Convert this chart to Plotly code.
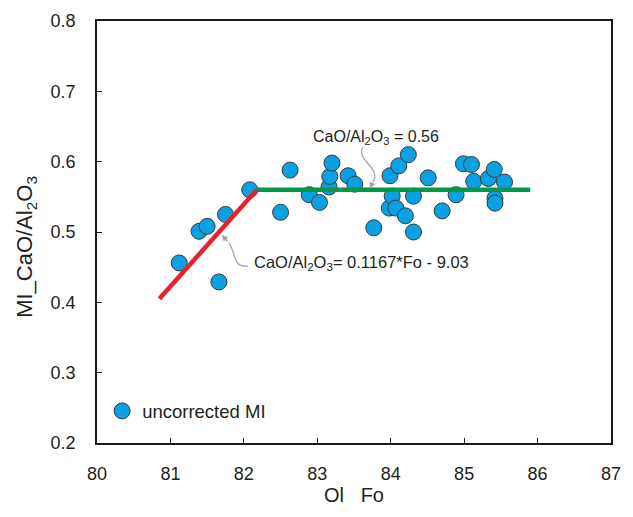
import plotly.graph_objects as go

# Olivine forsterite content of the host crystal and CaO/Al2O3 of each melt inclusion
ol_fo = [
    81.12, 81.39, 81.50, 81.66, 81.75, 82.08, 82.50, 82.63, 82.89, 83.03,
    83.16, 83.17, 83.20, 83.42, 83.51, 83.77, 83.98, 83.99, 84.02, 84.07,
    84.11, 84.20, 84.24, 84.31, 84.31, 84.51, 84.70, 84.89, 84.99, 85.10,
    85.13, 85.33, 85.41, 85.42, 85.42, 85.55,
]
mi_cao_al2o3 = [
    0.456, 0.501, 0.508, 0.429, 0.525, 0.560, 0.528, 0.588, 0.553, 0.542,
    0.564, 0.579, 0.598, 0.580, 0.568, 0.506, 0.534, 0.580, 0.551, 0.534,
    0.594, 0.523, 0.610, 0.551, 0.500, 0.577, 0.530, 0.553, 0.597, 0.596,
    0.572, 0.576, 0.589, 0.548, 0.541, 0.571,
]

# Two-segment trend: linear rise, then a constant plateau
slope, intercept = 0.1167, -9.03
plateau = 0.56
fo_start, fo_end = 80.85, 85.90
fo_break = (plateau - intercept) / slope

rise_x = [fo_start, fo_break]
rise_y = [slope * f + intercept for f in rise_x]
flat_x = [fo_break, fo_end]
flat_y = [plateau, plateau]

x_ticks = [80, 81, 82, 83, 84, 85, 86, 87]
y_ticks = [0.2, 0.3, 0.4, 0.5, 0.6, 0.7, 0.8]

TEXT = "#231f20"
FONT = "Liberation Sans, Arial, sans-serif"
ARROW = "#a3a3a3"

fig = go.Figure()

fig.add_trace(go.Scatter(
    x=ol_fo, y=mi_cao_al2o3, mode="markers", name="uncorrected MI",
    marker=dict(size=16, color="#0aa0e4", line=dict(color="#3a3a3a", width=1)),
))
fig.add_trace(go.Scatter(
    x=rise_x, y=rise_y, mode="lines", showlegend=False,
    line=dict(color="#e8212b", width=4.5),
))
fig.add_trace(go.Scatter(
    x=flat_x, y=flat_y, mode="lines", showlegend=False,
    line=dict(color="#00994a", width=4.5),
))

# Curved leader lines from the equation labels to the trend segments
fig.add_shape(type="path", xref="x", yref="y",
              path="M 83.623,0.6208 C 83.514,0.6024 83.881,0.5910 83.759,0.5711",
              line=dict(color=ARROW, width=1.2))
fig.add_shape(type="path", xref="x", yref="y",
              path="M 82.056,0.4517 C 81.838,0.4488 81.893,0.4716 81.798,0.4843",
              line=dict(color=ARROW, width=1.2))

fig.add_annotation(x=83.718, y=0.562, ax=3, ay=-7, text="", showarrow=True,
                   arrowhead=2, arrowsize=1, arrowwidth=1.2, arrowcolor=ARROW)
fig.add_annotation(x=81.702, y=0.4957, ax=7, ay=8, text="", showarrow=True,
                   arrowhead=2, arrowsize=1, arrowwidth=1.2, arrowcolor=ARROW)

fig.add_annotation(x=82.914, y=0.634, xanchor="left", yanchor="middle",
                   text=f"CaO/Al<sub>2</sub>O<sub>3</sub> = {plateau:.2f}",
                   showarrow=False, font=dict(size=16, color=TEXT, family=FONT))
fig.add_annotation(x=82.115, y=0.4555, xanchor="left", yanchor="middle",
                   text=f"CaO/Al<sub>2</sub>O<sub>3</sub>= {slope}*Fo - {abs(intercept):.2f}",
                   showarrow=False, font=dict(size=16.5, color=TEXT, family=FONT))

# Vertical axis title, placed beside the tick labels
fig.add_annotation(xref="paper", yref="paper", x=-0.138, y=0.465,
                   xanchor="center", yanchor="middle", textangle=-90,
                   text="MI_CaO/Al<sub>2</sub>O<sub>3</sub>", showarrow=False,
                   font=dict(size=22, color=TEXT, family=FONT))

axis_common = dict(
    showgrid=False, zeroline=False, showline=True, linecolor="#1a1a1a",
    linewidth=1.5, mirror=True, ticks="inside", ticklen=5, tickwidth=1,
    tickcolor="#1a1a1a", tickfont=dict(size=18, color=TEXT, family=FONT),
)

fig.update_xaxes(
    range=[80, 87], tickvals=x_ticks, ticktext=[str(v) for v in x_ticks],
    ticklabelstandoff=14,
    title=dict(text="Ol\u00a0\u00a0 Fo", font=dict(size=20, color=TEXT, family=FONT), standoff=4),
    **axis_common,
)
fig.update_yaxes(
    range=[0.2, 0.8], tickvals=y_ticks, ticktext=[f"{v:.1f}" for v in y_ticks],
    ticklabelstandoff=16,
    **axis_common,
)

fig.update_layout(
    width=633, height=517,
    margin=dict(l=97, r=22, t=21, b=74),
    paper_bgcolor="white", plot_bgcolor="white",
    font=dict(family=FONT, color=TEXT),
    showlegend=True,
    legend=dict(x=0.01, y=0.075, xanchor="left", yanchor="middle",
                bgcolor="rgba(0,0,0,0)", font=dict(size=18.5, color=TEXT, family=FONT)),
)

fig.write_html("out.html")
